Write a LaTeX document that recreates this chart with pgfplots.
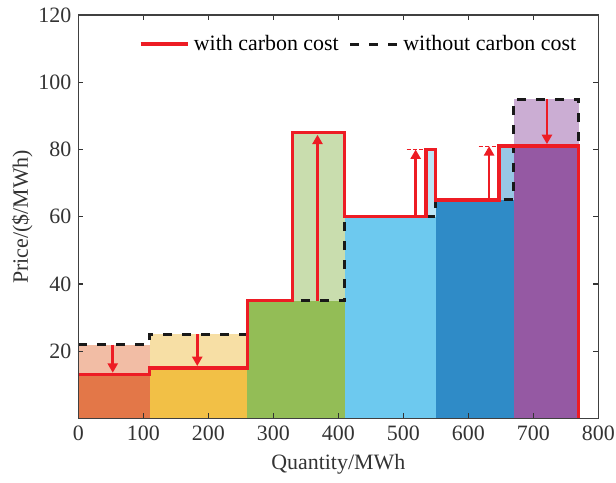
\documentclass[border=0pt]{standalone}
\usepackage{fontspec}
\setmainfont{Liberation Serif}
\usepackage{pgfplots}
\pgfplotsset{compat=1.18}
\usetikzlibrary{arrows.meta}
\definecolor{cred}{RGB}{237,28,36}
\definecolor{axisgray}{HTML}{404040}
\definecolor{labelgray}{HTML}{333333}
\definecolor{orangeD}{HTML}{E37748}
\definecolor{orangeL}{HTML}{F2BDA5}
\definecolor{yellowD}{HTML}{F2C046}
\definecolor{yellowL}{HTML}{F7DFA5}
\definecolor{greenD}{HTML}{93BD56}
\definecolor{greenL}{HTML}{C9DDAE}
\definecolor{lblueD}{HTML}{6DC9EF}
\definecolor{lblueL}{HTML}{BDE5F6}
\definecolor{blueD}{HTML}{2F8BC7}
\definecolor{blueL}{HTML}{98C7E5}
\definecolor{purpleD}{HTML}{9559A3}
\definecolor{purpleL}{HTML}{CBADD3}
\begin{document}
\begin{tikzpicture}
\begin{axis}[
  name=ax,
  scale only axis,
  width=260bp, height=201.75bp,
  xmin=0, xmax=800, ymin=0, ymax=120,
  xtick={0,100,...,800}, ytick={20,40,...,120},
  tick align=inside,
  major tick length=2.5bp,
  axis line style={draw=axisgray, line width=0.8bp},
  tick style={draw=axisgray!80!black, line width=0.6bp},
  tick label style={font=\fontsize{11}{13}\selectfont, text=labelgray},
  label style={font=\fontsize{11}{13}\selectfont, text=labelgray},
  /pgf/number format/assume math mode=true,
  xlabel={Quantity/MWh},
  ylabel={Price/(\$/MWh)},
  xlabel style={at={(axis description cs:0.5,0)}, anchor=center, yshift=-23bp},
  ylabel style={at={(axis description cs:0,0.5)}, anchor=center, yshift=28bp},
  axis on top,
  legend columns=2,
  legend cell align=left,
  legend style={draw=none, fill=none, at={(axis description cs:0.116,0.928)}, anchor=west,
    inner sep=0pt, font=\fontsize{11}{13}\selectfont,
    /tikz/every even column/.append style={column sep=3bp}},
  legend image code/.code={\draw[#1] (0bp,0bp) -- (23.8bp,0bp);},
]
\addlegendimage{draw=cred, line width=1.65bp}
\addlegendentry{with carbon cost}
\addlegendimage{draw=black!90, line width=1.5bp, dash pattern=on 4.5bp off 5bp}
\addlegendentry{without carbon cost}
% fills
\addplot[fill=orangeL, draw=none, forget plot] coordinates {(0,0) (0,22) (110,22) (110,0)} -- cycle;
\addplot[fill=orangeD, draw=none, forget plot] coordinates {(0,0) (0,13) (110,13) (110,0)} -- cycle;
\addplot[fill=yellowL, draw=none, forget plot] coordinates {(110,0) (110,25) (260,25) (260,0)} -- cycle;
\addplot[fill=yellowD, draw=none, forget plot] coordinates {(110,0) (110,15) (260,15) (260,0)} -- cycle;
\addplot[fill=greenL, draw=none, forget plot] coordinates {(330,0) (330,85) (410,85) (410,0)} -- cycle;
\addplot[fill=greenD, draw=none, forget plot] coordinates {(260,0) (260,35) (410,35) (410,0)} -- cycle;
\addplot[fill=lblueL, draw=none, forget plot] coordinates {(535,0) (535,80) (550,80) (550,0)} -- cycle;
\addplot[fill=lblueD, draw=none, forget plot] coordinates {(410,0) (410,60) (550,60) (550,0)} -- cycle;
\addplot[fill=blueL, draw=none, forget plot] coordinates {(647,0) (647,81) (670,81) (670,0)} -- cycle;
\addplot[fill=blueD, draw=none, forget plot] coordinates {(550,0) (550,65) (670,65) (670,0)} -- cycle;
\addplot[fill=purpleL, draw=none, forget plot] coordinates {(670,0) (670,95) (770,95) (770,0)} -- cycle;
\addplot[fill=purpleD, draw=none, forget plot] coordinates {(670,0) (670,81) (770,81) (770,0)} -- cycle;
% without carbon cost
\addplot[draw=black!90, line width=1.5bp, dash pattern=on 4.5bp off 5bp, forget plot] coordinates {
(0,22) (110,22) (110,25) (260,25) (260,35) (410,35) (410,60) (550,60) (550,65) (670,65) (670,95) (770,95) (770,0)};
% with carbon cost
\addplot[draw=cred, line width=1.65bp, forget plot] coordinates {
(0,13) (110,13) (110,15) (260,15) (260,35) (330,35) (330,85) (410,85) (410,60) (535,60) (535,80) (550,80) (550,65) (647,65) (647,81) (770,81) (770,0)};
% reference dashed lines
\addplot[draw=cred, line width=0.6bp, dash pattern=on 2bp off 1.2bp, forget plot] coordinates {(505,80) (535,80)};
\addplot[draw=cred, line width=0.6bp, dash pattern=on 2bp off 1.2bp, forget plot] coordinates {(616,81) (647,81)};
% arrows
\addplot[draw=cred, line width=1.3bp, -{Triangle[width=5bp,length=4.7bp]}, forget plot] coordinates {(53,22) (53,13.6)};
\addplot[draw=cred, line width=1.3bp, -{Triangle[width=5bp,length=4.7bp]}, forget plot] coordinates {(183,25) (183,15.6)};
\addplot[draw=cred, line width=1.3bp, -{Triangle[width=5bp,length=4.7bp]}, forget plot] coordinates {(368,35) (368,84.4)};
\addplot[draw=cred, line width=1.3bp, -{Triangle[width=5bp,length=4.7bp]}, forget plot] coordinates {(519,60) (519,80)};
\addplot[draw=cred, line width=1.3bp, -{Triangle[width=5bp,length=4.7bp]}, forget plot] coordinates {(632,65) (632,81)};
\addplot[draw=cred, line width=1.3bp, -{Triangle[width=5bp,length=4.7bp]}, forget plot] coordinates {(721,95) (721,81.6)};
\end{axis}
\pgfresetboundingbox
\path ([shift={(-39.15bp,-32.25bp)}]ax.south west) rectangle ([shift={(8.85bp,7.5bp)}]ax.north east);
\end{tikzpicture}
\end{document}
